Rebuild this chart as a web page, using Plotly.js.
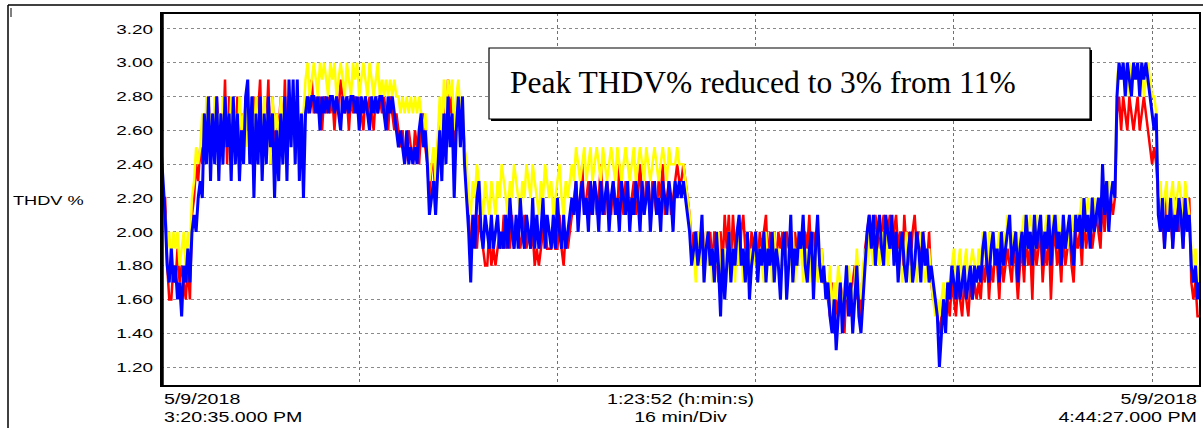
<!DOCTYPE html>
<html>
<head>
<meta charset="utf-8">
<script src="https://cdn.plot.ly/plotly-3.0.1.min.js"></script>
<style>
  html, body { margin: 0; padding: 0; background: #ffffff; }
  #chart { width: 1203px; height: 428px; }
</style>
</head>
<body>
<div id="chart"></div>
<script>
// THDV % readings in tenths of a percent, one sample every 10 s
const startTime = '2018-05-09 15:20:35';
const endTime = '2018-05-09 16:44:27';
const sampleSeconds = 10;

const redTenths = [
  24,22,22,
  18,16,16,18,17,19,17,18,17,16,18,16,
  21,22,24,23,
  25,24,27,25,28,24,27,25,28,26, 27,25,29,24,28,26,27,25,28,24, 27,25,28,26,27,24,28,26,27,29,
  25,27,26,29,24,28,25,27,26,28, 25,29,24,28,26,27,25,28,24,27, 24,
  28,27,28,29,27,28,27,28,26,28, 27,28,27,28,26,28,27,29,28,27, 28,26,28,27,28,27,28,27,26,28,
  27,28,27,26,28,27,28,27,28,27, 26,28,27,26,27,
  26,25,26,24,25,26,25,24,26,25,24, 26,27,25,24,22,24,
  24,22,25,27,24,28,26,29,27,28,24,27,28,26,27,25,
  23,21,19,20,21,19,21,20,19,18, 18,20,18,19,18,19,20,19,21,19, 20,19,21,19,20,20,19,20,21,19,
  20,19,20,18,19,18,19,20,21,19, 19,19,20,19,19,21,19,18,20,19,20,
  21,22,23,21,22,24,21,22,23,21, 22,23,21,22,24,22,21,23,22,21, 23,22,21,24,22,21,23,22,21,22,
  23,21,22,24,22,21,23,22,21,23, 22,21,23,22,24,21,22,23,21,22, 23,24,23,
  23,24,23,22,21,
  19,20,18,20,19,20,18,20,19,20, 18,20,19,17,20,18,21,19,21,18, 21,19,20,18,20,21,19,20,18,20,
  19,20,18,20,19,20,21,18,20,19, 20,18,20,19,20,18,20,19,20,18, 20,19,19,20,18,20,19,21,18,20,
  19,20,18,19,17,
  17,16,15,17,14,16,15,17,16,14,17,16,15,17,18,16,17,15,17,
  19,20,21,20,19,21,20,19,20,21,19,20,21,19,20,21,
  19,20,18,21,19,20,18,20,21,19,20,18,20,19,18,20,17,16,
  16,15,14,15,16,15,16,
  15,17,16,15,17,16,15,17,16,15,17,16,17,16,
  17,16,18,17,19,16,18,17,19,18,16,19,17,18,19,18,17,19,18,16,18,
  19,17,20,18,19,16,20,18,19,20,17,19,18,20,16,19,20,18,19,17,20,18,19,20,18,17,20,19,
  20,18,21,19,20,21,19,20,21,20,19,
  22,20,22,21,22,21,22,
  27,28,26,28,27,26,28,27,26,27,28,26,27,28,27,26,
  25,24,25,24,
  22,20,21,19,22,20,21,19,22,21,20,22,19,21,20,22,
  17,16,17,15,15
];

const yellowTenths = [
  23,22,21,
  19,20,18,20,19,20,18,19,20,18,20,19,
  22,23,25,24,
  25,27,24,28,26,27,25,28,26,27, 25,28,26,27,25,28,26,27,24,28, 26,27,25,28,26,27,25,28,26,27,
  25,28,26,27,24,28,26,27,25,28, 26,27,25,28,26,28,27,28,26,27, 27,
  29,30,28,29,30,29,28,30,29,30, 29,28,30,29,30,28,29,30,29,28, 30,29,28,30,29,30,28,29,30,29,
  28,30,29,28,29,30,28,29,28,29, 28,29,28,29,28,
  28,27,28,27,28,27,28,27,28,27,28, 27,26,27,25,23,24,
  25,23,26,28,25,29,27,29,28,29,26,28,29,27,28,25,
  24,22,21,23,22,24,23,22,21,23, 22,21,23,22,21,23,22,24,23,22, 21,23,22,24,23,22,21,23,22,24,
  23,22,24,23,22,21,23,22,24,23, 22,23,21,22,23,24,22,21,23,22,23,
  24,23,25,24,23,24,25,23,24,25, 23,24,25,24,23,25,24,23,24,25, 24,23,25,24,23,24,25,24,23,24,
  25,23,24,25,24,23,25,24,23,24, 25,24,23,24,25,24,23,25,24,24, 24,25,24,
  24,24,23,22,21,
  18,19,17,20,18,19,17,20,18,19, 17,19,18,20,17,18,19,17,20,18, 19,17,20,18,19,17,18,20,17,19,
  18,20,17,19,18,17,20,18,19,17, 20,18,19,17,18,20,17,19,18,20, 17,19,18,20,17,19,18,17,20,18,
  19,17,18,19,17,
  17,16,18,15,17,16,18,17,15,17,16,18,17,16,17,19,17,16,18,
  19,18,20,19,18,20,19,18,20,19,20,18,19,20,19,18,
  18,19,17,18,20,18,17,19,18,17,19,20,18,17,18,19,17,16,
  15,16,15,16,17,16,17,
  17,18,19,17,18,19,17,18,19,17,18,19,18,17,
  19,18,20,19,18,20,19,20,18,19,20,18,20,19,21,20,19,20,19,18,20,
  20,21,19,20,21,20,19,21,20,21,19,20,21,20,19,21,20,21,19,20,21,20,19,21,20,21,20,21,
  21,22,20,21,22,21,20,22,21,22,21,
  22,23,22,23,22,23,22,
  29,30,29,30,29,28,30,29,30,29,30,29,30,28,29,30,
  29,28,28,27,
  22,23,21,22,23,20,22,23,21,22,23,22,20,23,22,21,
  19,18,19,17,18
];

const blueTenths = [
  25,23,21,
  18,17,19,17,18,16,17,15,18,17,19,17,
  20,21,20,22,
  23,22,27,24,28,23,27,24,28,23, 27,24,28,25,27,23,28,24,27,23, 26,24,28,29,24,28,22,27,24,28,
  23,27,24,28,25,27,22,26,23,27, 24,28,23,29,25,29,24,29,23,27, 22,
  27,28,27,28,28,27,28,26,28,27, 28,27,28,28,27,28,27,26,28,27, 28,27,28,28,27,28,26,28,27,28,
  27,26,28,27,28,27,28,28,27,26, 28,27,28,27,26,
  25,26,25,24,26,24,25,24,25,24,26, 27,25,26,24,21,22,
  23,21,24,26,23,27,24,28,25,27,22,26,28,25,28,24,
  22,20,17,21,19,22,23,20,19,21, 20,19,21,19,20,21,19,20,19,21, 19,22,20,19,21,19,22,20,19,21,
  20,19,22,19,21,19,20,22,19,21, 20,19,21,19,22,20,19,21,19,20,21,
  22,21,23,20,22,23,21,22,20,23, 21,23,22,20,23,21,22,23,20,22, 23,21,22,20,23,22,21,23,20,22,
  21,23,22,20,23,21,22,23,20,22, 23,21,22,20,23,22,21,23,22,20, 23,22,23,
  22,23,22,21,20,
  18,19,20,18,19,21,17,19,20,18, 19,17,20,18,15,19,16,18,20,17, 19,18,20,21,18,19,17,20,16,18,
  19,20,17,19,18,20,17,19,18,20, 17,19,18,16,19,20,16,18,21,17, 19,18,20,19,21,18,17,19,20,16,
  19,21,18,17,18,
  16,17,15,14,16,13,15,17,14,16,18,15,17,14,16,18,15,14,16,
  18,20,21,19,21,18,20,21,19,18,21,20,19,21,18,20,
  17,19,20,18,17,19,20,17,18,20,19,17,20,18,19,17,18,17,
  16,15,12,14,16,14,17,
  16,18,17,16,18,16,17,18,16,17,18,16,18,17,
  18,17,19,20,18,17,19,20,18,19,17,20,18,19,20,21,18,19,20,17,19,
  20,18,21,19,20,18,21,19,20,21,18,20,19,21,18,20,21,19,20,18,21,19,20,21,19,18,21,20,
  21,19,22,20,21,19,22,20,21,22,20,
  24,21,23,20,22,23,22,
  28,30,29,30,28,30,29,28,30,29,30,28,30,29,30,29,
  28,27,26,27,
  21,20,22,19,21,20,22,19,21,20,22,21,19,22,20,21,
  18,17,18,16,17
];

const yTickValues = [1.2, 1.4, 1.6, 1.8, 2.0, 2.2, 2.4, 2.6, 2.8, 3.0, 3.2];
const startLabel = '5/9/2018<br>3:20:35.000 PM';
const spanLabel = '1:23:52 (h:min:s)<br>16 min/Div';
const endLabel = '5/9/2018<br>4:44:27.000 PM';
const yLabel = 'THDV %';
const noteText = 'Peak THDV% reduced to 3% from 11%';

const startMs = Date.UTC(2018, 4, 9, 15, 20, 35);
function stamp(i) {
  return new Date(startMs + i * sampleSeconds * 1000).toISOString().replace('T', ' ').replace('Z', '');
}
function series(tenths, color, width) {
  return {
    type: 'scatter', mode: 'lines',
    x: tenths.map((_, i) => stamp(i)),
    y: tenths.map(v => v / 10),
    line: { color: color, width: width, shape: 'linear' },
    hoverinfo: 'x+y', showlegend: false
  };
}

const data = [
  series(redTenths, '#ff0000', 2.5),
  series(yellowTenths, '#ffff00', 2.5),
  series(blueTenths, '#0000ff', 3)
];

// plot area: x 161..1200, y 13..386
const L = 161, R = 1200, T = 13, B = 386;
const px = v => (v - L) / (R - L);
const py = v => (B - v) / (B - T);

const layout = {
  width: 1203, height: 428,
  margin: { l: L, r: 1203 - R, t: T, b: 428 - B, pad: 0 },
  paper_bgcolor: '#ffffff', plot_bgcolor: '#ffffff',
  font: { family: 'Liberation Sans, Arial, sans-serif', size: 13, color: '#000000' },
  xaxis: {
    type: 'date',
    range: [startTime, endTime],
    tick0: startTime, dtick: 16 * 60 * 1000,
    showticklabels: false, ticks: '',
    showgrid: true, gridcolor: '#707070', gridwidth: 1, griddash: 'dot',
    zeroline: false, showline: false, fixedrange: true
  },
  yaxis: {
    range: [1.088, 3.294],
    tickvals: yTickValues, tickformat: '.2f',
    ticks: '', ticklabelstandoff: 7,
    tickfont: { family: 'Liberation Sans, Arial, sans-serif', size: 13.5, color: '#000000' },
    showgrid: true, gridcolor: '#8a8a8a', gridwidth: 1, griddash: 'dot',
    zeroline: false, showline: false, fixedrange: true
  },
  shapes: [
    // outer frame pieces
    { type: 'line', xref: 'paper', yref: 'paper', x0: px(8), x1: px(8), y0: py(5), y1: py(428), line: { color: '#000', width: 1.5 } },
    { type: 'line', xref: 'paper', yref: 'paper', x0: px(8), x1: px(1203), y0: py(5), y1: py(5), line: { color: '#000', width: 1.5 } },
    { type: 'line', xref: 'paper', yref: 'paper', x0: px(11), x1: px(11), y0: py(8), y1: py(17), line: { color: '#000', width: 1 } },
    // plot frame
    { type: 'rect', xref: 'paper', yref: 'paper', x0: 0, x1: 1, y0: 0, y1: 1, line: { color: '#000', width: 2 }, layer: 'above' },
    { type: 'line', xref: 'paper', yref: 'paper', x0: px(162), x1: px(162), y0: 0, y1: 1, line: { color: '#000', width: 3.5 }, layer: 'above' },
    // note box
    { type: 'rect', xref: 'paper', yref: 'paper', x0: px(491), x1: px(1092), y0: py(50), y1: py(121), line: { width: 0 }, fillcolor: '#000', layer: 'above' },
    { type: 'rect', xref: 'paper', yref: 'paper', x0: px(489), x1: px(1090), y0: py(48), y1: py(119), line: { color: '#000', width: 1.2 }, fillcolor: '#fff', layer: 'above' }
  ],
  annotations: [
    { xref: 'paper', yref: 'paper', x: px(508), y: py(82), xanchor: 'left', yanchor: 'middle', showarrow: false,
      text: noteText, font: { family: 'Liberation Serif, Times New Roman, serif', size: 31.5, color: '#000' } },
    { xref: 'paper', yref: 'paper', x: px(48.5), y: py(200), xanchor: 'center', yanchor: 'middle', showarrow: false,
      text: yLabel, font: { size: 13 } },
    { xref: 'paper', yref: 'paper', x: px(162), y: py(389), xanchor: 'left', yanchor: 'top', align: 'left', showarrow: false,
      text: startLabel, font: { size: 14 } },
    { xref: 'paper', yref: 'paper', x: 0.5, y: py(389), xanchor: 'center', yanchor: 'top', align: 'center', showarrow: false,
      text: spanLabel, font: { size: 14 } },
    { xref: 'paper', yref: 'paper', x: px(1199), y: py(389), xanchor: 'right', yanchor: 'top', align: 'right', showarrow: false,
      text: endLabel, font: { size: 14 } }
  ]
};

// the instrument's sans-serif labels are drawn wide; stretch those glyphs horizontally
const widen = 1.4;
function stretchText(el) {
  const w = el.getComputedTextLength();
  if (w > 0) {
    el.setAttribute('textLength', (w * widen).toFixed(1));
    el.setAttribute('lengthAdjust', 'spacingAndGlyphs');
  }
}

Plotly.newPlot('chart', data, layout, { staticPlot: true, displayModeBar: false }).then(gd => {
  gd.querySelectorAll('.ytick text').forEach(stretchText);
  gd.querySelectorAll('.annotation-text').forEach(t => {
    if (t.textContent === noteText) return;
    const lines = t.querySelectorAll('tspan.line');
    if (lines.length) lines.forEach(stretchText); else stretchText(t);
  });
});
</script>
</body>
</html>
